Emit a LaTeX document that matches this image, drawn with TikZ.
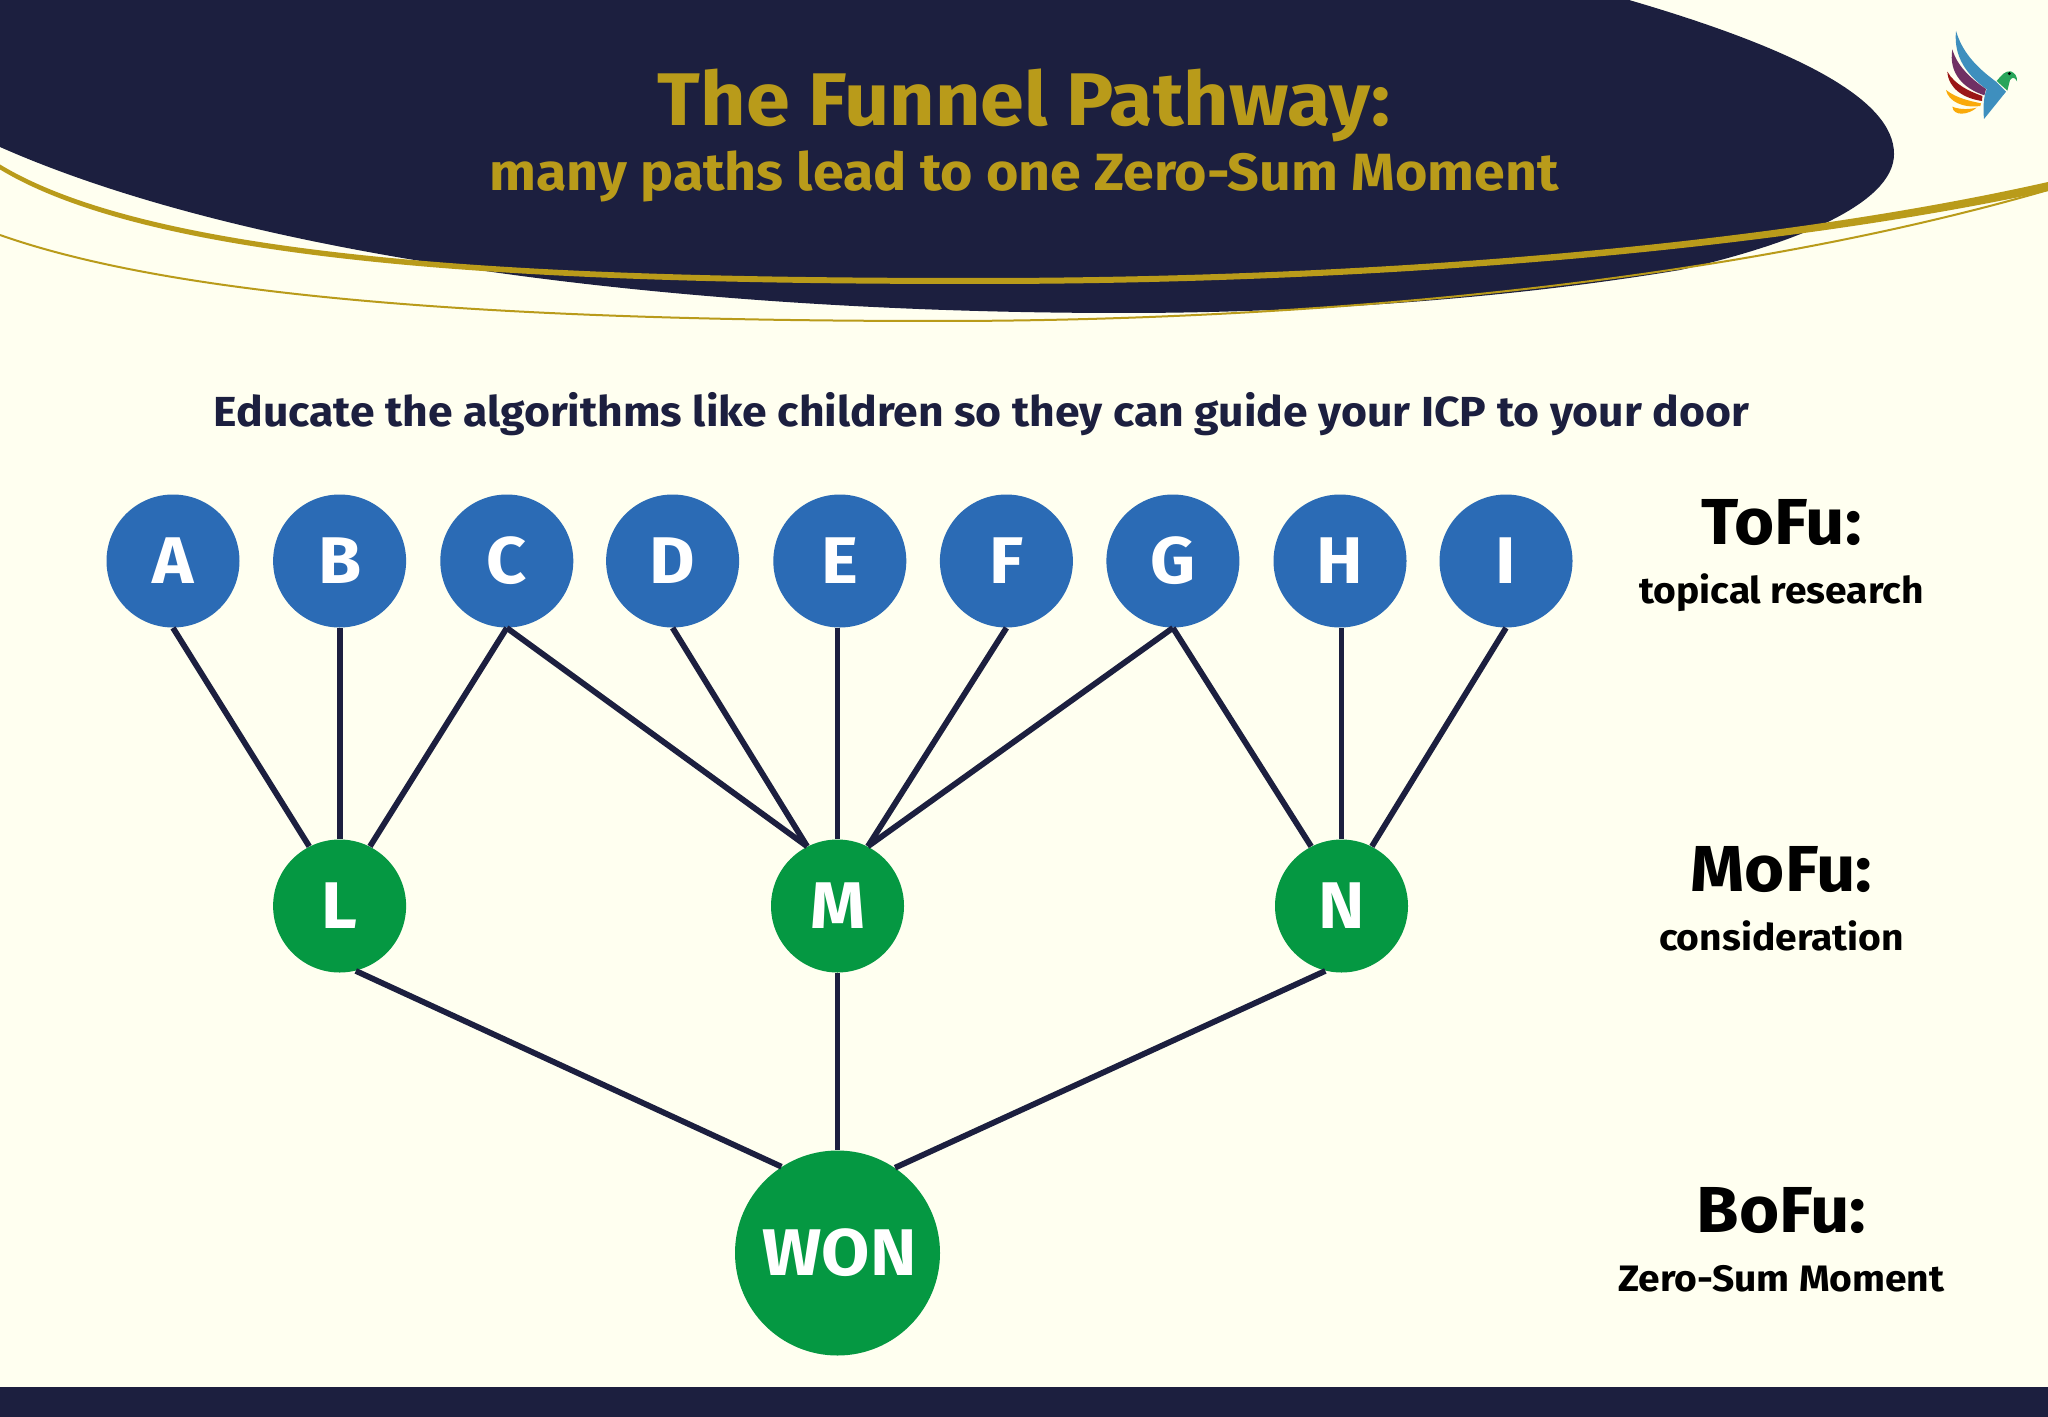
\documentclass[tikz,border=0pt]{standalone}
\usepackage{fontspec}
\setmainfont{Fira Sans}[FakeStretch=1.06]
\definecolor{paper}{HTML}{FFFFF0}
\definecolor{navy}{HTML}{1C1F3F}
\definecolor{gold}{HTML}{B99B1A}
\definecolor{nodeblue}{HTML}{2B6BB5}
\definecolor{nodegreen}{HTML}{059842}
\definecolor{birdblue}{HTML}{3E8FBE}
\definecolor{birdpurple}{HTML}{703064}
\definecolor{birdred}{HTML}{9B1616}
\definecolor{birdorange}{HTML}{FAAA0A}
\definecolor{birdgreen}{HTML}{28A55A}
\tikzset{
  ball/.style={circle,inner sep=0pt,text=white,font=\bfseries\fontsize{33}{33}\selectfont,text height=22.7pt,text depth=0pt},
  bluenode/.style={ball,fill=nodeblue,minimum size=66.5pt},
  greennode/.style={ball,fill=nodegreen,minimum size=66.5pt},
  wonnode/.style={ball,fill=nodegreen,minimum size=102.5pt},
  link/.style={draw=navy,line width=2.9pt},
  lvlhead/.style={anchor=base,text=black,font=\bfseries\fontsize{32.5}{33}\selectfont},
  lvlsub/.style={anchor=base,text=black,font=\bfseries\fontsize{18.4}{19}\selectfont}
}
\begin{document}
\begin{tikzpicture}[x=0.5pt,y=-0.5pt]
\useasboundingbox (0,0) rectangle (2048,1417);
\fill[paper] (0,0) rectangle (2048,1417);
\fill[navy] (0,0) -- (1629,0) .. controls (1800,50) and (1894,100) .. (1894,154)
  .. controls (1894,205) and (1790,245) .. (1680,270)
  .. controls (1500,300) and (1300,313) .. (1123,313)
  .. controls (700,313) and (260,262) .. (0,147) -- cycle;
\fill[navy] (0,1387) rectangle (2048,1417);
% gold swooshes
\fill[gold] (0,164.5) .. controls (170,267.5) and (600,278) .. (980,278)
  .. controls (1350,278) and (1750,249) .. (2048,182)
  -- (2048,191) .. controls (1750,255) and (1350,284) .. (980,284)
  .. controls (600,284) and (170,272.5) .. (0,169.5) -- cycle;
\draw[gold,line width=1pt] (0,235) .. controls (170,295) and (480,321) .. (940,321)
  .. controls (1300,321) and (1720,285) .. (2048,190);
% texts
\node[anchor=base,text=gold,font=\bfseries\fontsize{37.3}{38}\selectfont] (title) at (1024,126) {The Funnel Pathway:};
\node[anchor=base,text=gold,font=\bfseries\fontsize{26.2}{27}\selectfont] (subtitle) at (1024,191) {many paths lead to one Zero-Sum Moment};
\node[anchor=base,text=navy,font=\bfseries\fontsize{21}{22}\selectfont] (educate) at (981.5,426) {Educate the algorithms like children so they can guide your ICP to your door};
% nodes
\foreach \n/\x in {A/173,B/339.6,C/506.8,D/672.6,E/839.8,F/1006.4,G/1172.9,H/1340,I/1506}
  \node[bluenode] (\n) at (\x,561) {\n};
\node[greennode] (L) at (339.6,906) {L};
\node[greennode] (M) at (837.5,906) {M};
\node[greennode] (N) at (1341.5,906) {N};
\node[wonnode] (WON) at (837.5,1253) {\kern2pt WON};
% links
\draw[link] (A.south) -- (L.117);
\draw[link] (L.north) -- (L.north |- B.south);
\draw[link] (C.south) -- (L.63);
\draw[link] (C.south) -- (M.117);
\draw[link] (D.south) -- (M.117);
\draw[link] (M.north) -- (M.north |- E.south);
\draw[link] (F.south) -- (M.63);
\draw[link] (G.south) -- (M.63);
\draw[link] (G.south) -- (N.117);
\draw[link] (N.north) -- (N.north |- H.south);
\draw[link] (I.south) -- (N.63);
\draw[link] (L.-76) -- (WON.123);
\draw[link] (M.south) -- (WON.north);
\draw[link] (N.-104) -- (WON.56);
% level labels
\node[lvlhead] (tofu) at (1781.5,544) {ToFu:};
\node[lvlsub] (tofus) at (1781.5,603) {topical research};
\node[lvlhead] (mofu) at (1781.5,891) {MoFu:};
\node[lvlsub] (mofus) at (1781.5,950) {consideration};
\node[lvlhead] (bofu) at (1781.5,1232) {BoFu:};
\node[lvlsub] (bofus) at (1781.5,1291) {Zero-Sum Moment};
% bird
\begin{scope}[shift={(960pt,-10pt)},x=0.16667pt,y=-0.16667pt]
\fill[birdblue] (108,33) .. controls (125,90) and (160,135) .. (228,185) -- (258,215) -- (192,297) .. controls (188,260) and (192,225) .. (200,208) .. controls (140,165) and (100,110) .. (108,33) -- cycle;
\fill[birdpurple] (97,88) .. controls (110,135) and (150,175) .. (198,207) -- (193,226) .. controls (130,205) and (85,160) .. (97,88) -- cycle;
\fill[birdred] (82,155) .. controls (105,195) and (150,215) .. (187,228) -- (186,243) .. controls (130,235) and (85,205) .. (82,155) -- cycle;
\fill[birdorange] (78,210) .. controls (110,235) and (150,243) .. (183,250) -- (181,258) .. controls (130,265) and (85,245) .. (78,210) -- cycle;
\fill[birdorange] (97,260) .. controls (120,270) and (150,268) .. (170,263) .. controls (145,285) and (100,290) .. (97,260) -- cycle;
\fill[birdgreen] (230,183) .. controls (245,165) and (255,152) .. (272,154) .. controls (285,158) and (292,170) .. (291,184) .. controls (285,172) and (278,170) .. (270,180) -- (262,212) -- cycle;
\fill[black] (268,161) circle [radius=5];
\end{scope}
\end{tikzpicture}
\end{document}
